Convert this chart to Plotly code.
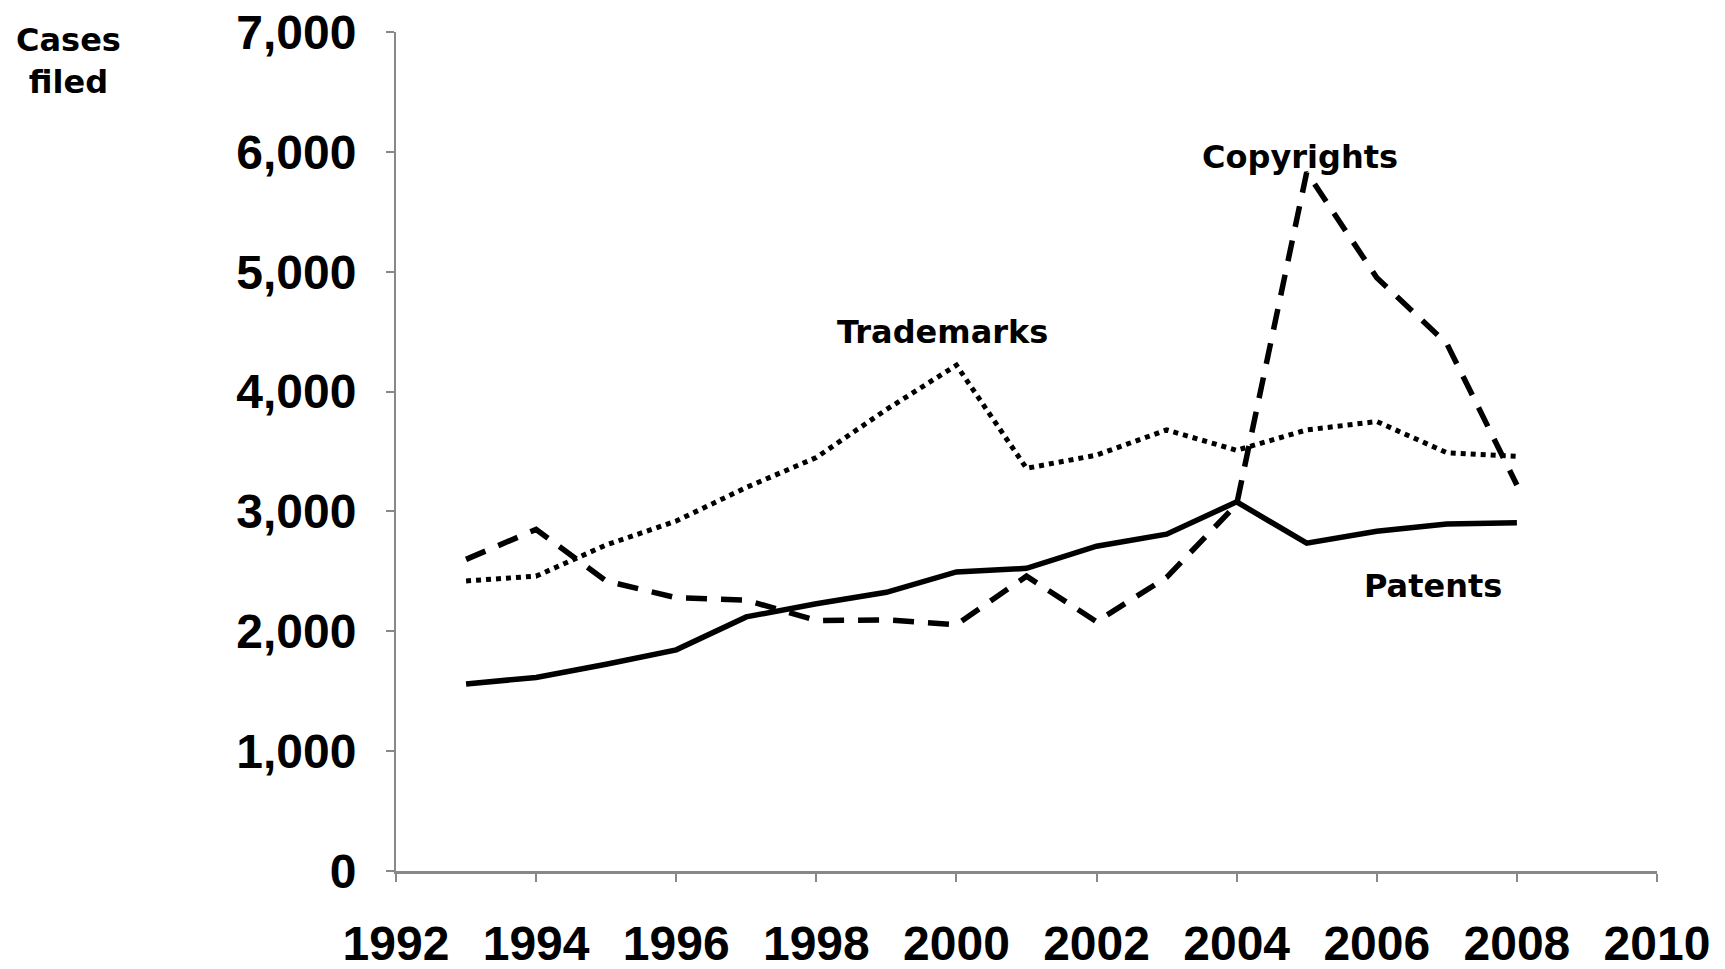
import plotly.graph_objects as go

years = list(range(1993, 2009))
patents = [1560, 1615, 1725, 1845, 2120, 2230, 2325, 2495, 2525, 2710, 2810, 3080, 2735, 2835, 2895, 2905]
trademarks = [2420, 2460, 2720, 2920, 3200, 3450, 3850, 4220, 3360, 3470, 3680, 3510, 3680, 3750, 3490, 3460]
copyrights = [2600, 2850, 2420, 2280, 2260, 2090, 2095, 2055, 2460, 2080, 2450, 3060, 5830, 4950, 4400, 3220]

x_ticks = list(range(1992, 2011, 2))
y_ticks = list(range(0, 7001, 1000))

tick_font = dict(family="Liberation Sans, Arial, sans-serif", size=48, color="black", weight="bold")
label_font = dict(family="DejaVu Sans, Verdana, sans-serif", size=32, color="black", weight="bold")

fig = go.Figure()
fig.add_trace(go.Scatter(x=years, y=trademarks, mode="lines", name="Trademarks",
                         line=dict(color="black", width=5, dash="5px,5px")))
fig.add_trace(go.Scatter(x=years, y=copyrights, mode="lines", name="Copyrights",
                         line=dict(color="black", width=5.5, dash="21px,14px")))
fig.add_trace(go.Scatter(x=years, y=patents, mode="lines", name="Patents",
                         line=dict(color="black", width=5.5)))

fig.add_annotation(x=2004.9, y=5960, text="Copyrights", showarrow=False, font=label_font)
fig.add_annotation(x=1999.8, y=4500, text="Trademarks", showarrow=False, font=label_font)
fig.add_annotation(x=2006.8, y=2380, text="Patents", showarrow=False, font=label_font)
fig.add_annotation(x=-0.26, y=0.966, xref="paper", yref="paper", text="Cases<br>filed",
                   xanchor="center", yanchor="middle",
                   showarrow=False, font=label_font, align="center")

fig.update_layout(
    width=1725, height=969,
    margin=dict(l=396, r=68, t=32, b=98, autoexpand=False),
    paper_bgcolor="white", plot_bgcolor="white",
    showlegend=False,
    xaxis=dict(range=[1992, 2010], tickvals=x_ticks, ticktext=[str(v) for v in x_ticks],
               showgrid=False, zeroline=False, showline=True, linecolor="#888888", linewidth=3,
               ticks="outside", ticklen=8, tickwidth=2, tickcolor="#888888", automargin=False,
               tickfont=tick_font, ticklabelstandoff=20, ticklabeloverflow="allow"),
    yaxis=dict(range=[0, 7000], tickvals=y_ticks, ticktext=[f"{v:,}" for v in y_ticks],
               showgrid=False, zeroline=False, showline=True, linecolor="#888888", linewidth=2,
               ticks="outside", ticklen=8, tickwidth=2, tickcolor="#888888", automargin=False,
               tickfont=tick_font, ticklabelstandoff=20, ticklabeloverflow="allow"),
)

fig.write_html("out.html", config={"displayModeBar": False},
               post_script="document.body.style.margin='0';")
